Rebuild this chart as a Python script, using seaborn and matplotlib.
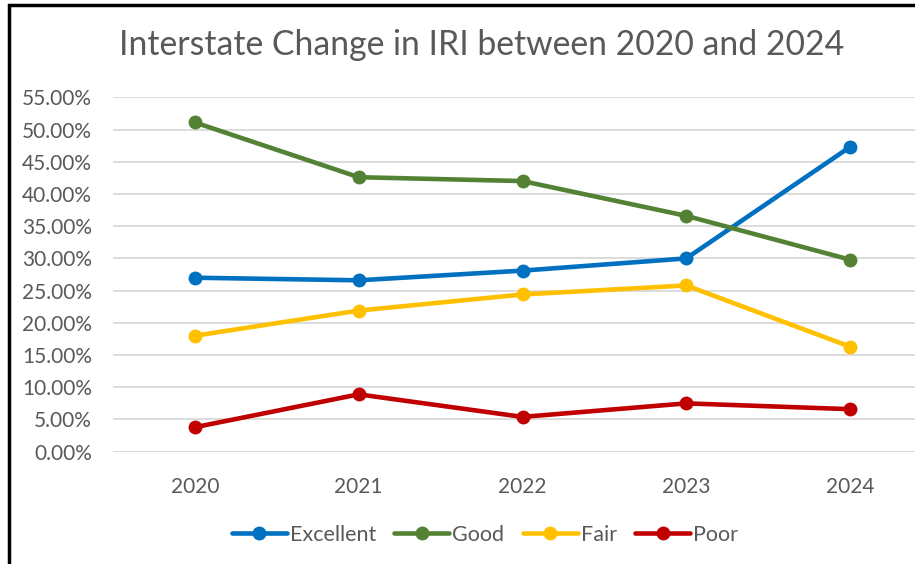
import pandas as pd
import matplotlib.pyplot as plt
import matplotlib.patches as patches
import seaborn as sns

# Data
years = ["2020", "2021", "2022", "2023", "2024"]
excellent = [0.270, 0.266, 0.281, 0.300, 0.473]
good = [0.511, 0.426, 0.420, 0.366, 0.298]
fair = [0.180, 0.219, 0.244, 0.258, 0.163]
poor = [0.038, 0.089, 0.054, 0.075, 0.066]
categories = ["Excellent", "Good", "Fair", "Poor"]
colors = ["#0070C0", "#548235", "#FFC000", "#C00000"]

df = pd.DataFrame({
    "year": years * 4,
    "condition": [c for c in categories for _ in years],
    "share": excellent + good + fair + poor,
})

sns.set_style("white")
plt.rcParams["font.family"] = ["Lato", "DejaVu Sans"]

fig = plt.figure(figsize=(9.15, 5.64), dpi=100)
ax = fig.add_axes([113 / 915, 1 - 451.7 / 564, (932 - 113) / 915, (451.7 - 97.3) / 564])

sns.lineplot(
    data=df, x="year", y="share", hue="condition",
    palette=colors, hue_order=categories,
    marker="o", markersize=10, markeredgewidth=0,
    linewidth=3.3, sort=False, ax=ax,
)

ax.set_xlim(-0.5, 4.5)
ax.set_ylim(0, 0.55)
ax.set_yticks([i * 0.05 for i in range(12)])
ax.yaxis.set_major_formatter(plt.FuncFormatter(lambda v, p: f"{v * 100:.2f}%"))
ax.grid(axis="y", color="#D9D9D9", linewidth=1.3)
ax.set_axisbelow(True)
for s in ax.spines.values():
    s.set_visible(False)
ax.tick_params(axis="both", length=0, labelsize=15, colors="#595959")
ax.tick_params(axis="y", pad=15)
ax.tick_params(axis="x", pad=18)
ax.set_xlabel("")
ax.set_ylabel("")

ax.legend_.remove()
handles, labels = ax.get_legend_handles_labels()
fig.legend(
    handles, labels, loc="center", bbox_to_anchor=(485 / 915, 1 - 535 / 564),
    ncol=4, frameon=False, fontsize=15.5, labelcolor="#595959",
    handlelength=2.55, handletextpad=0.15, columnspacing=0.85,
)

fig.text(482 / 915, 1 - 45 / 564, "Interstate Change in IRI between 2020 and 2024",
         ha="center", va="center", fontsize=24.3, color="#595959")

# chart border (left and top visible in the crop)
fig.patches.append(patches.Rectangle((9 / 915, -0.05), 1.1, 1 - 5 / 564 + 0.05,
                                     transform=fig.transFigure, fill=False,
                                     edgecolor="black", linewidth=2.5))

fig.savefig("out.png", dpi=100)
